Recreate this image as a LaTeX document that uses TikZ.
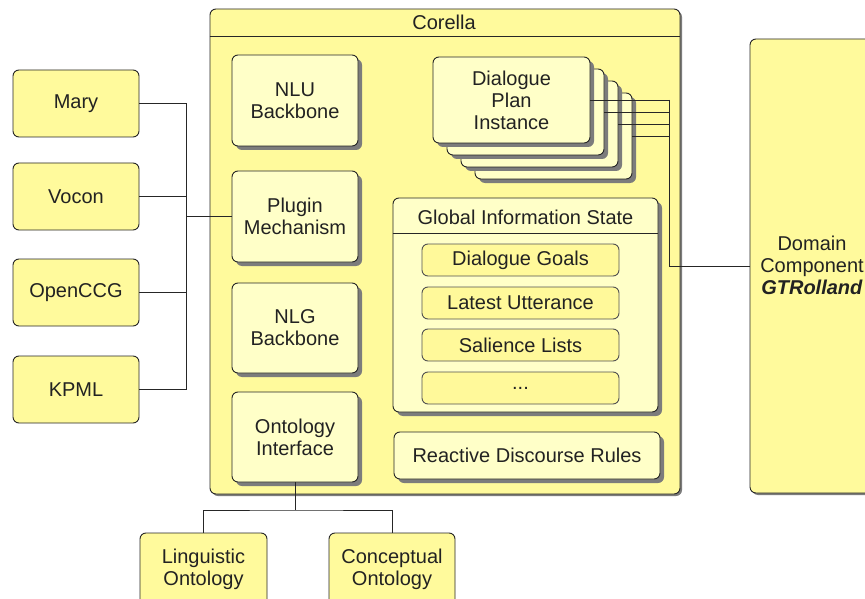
\documentclass[tikz,border=0pt]{standalone}
\usepackage{fontspec}
\setmainfont{Liberation Sans}
\usetikzlibrary{shadows}
\definecolor{outerY}{HTML}{FFFA9C}
\definecolor{innerY}{HTML}{FFFFC8}
\definecolor{itemY}{HTML}{FFF99A}
\definecolor{shadowG}{HTML}{7C7C7C}
\definecolor{inkC}{HTML}{262626}
\definecolor{textC}{HTML}{222222}
\tikzset{
  base/.style={draw=inkC, line width=0.9pt, rounded corners=6pt, align=center,
    text=textC, inner sep=0pt, font=\fontsize{20}{22}\selectfont},
  comp/.style={base, fill=innerY,
    drop shadow={shadow xshift=4pt, shadow yshift=-4pt, fill=shadowG, opacity=1}},
  extbox/.style={base, fill=outerY},
  item/.style={base, draw=inkC!80, fill=itemY, minimum width=197pt, minimum height=32pt},
  wire/.style={draw=inkC, line width=0.9pt},
  label/.style={text=textC, inner sep=0pt, font=\fontsize{20}{22}\selectfont}
}
\begin{document}
\begin{tikzpicture}[x=1pt, y=-1pt]
\fill[white] (0,0) rectangle (865,599);
\clip (0,0) rectangle (865,599);

% Corella container
\node[extbox, minimum width=470pt, minimum height=485pt,
  drop shadow={shadow xshift=2pt, shadow yshift=-2pt, fill=shadowG, opacity=1}]
  (cor) at (445,251.5) {};
\draw[wire] ([yshift=-28pt]cor.north west) -- ([yshift=-28pt]cor.north east);
\node[label] (cortitle) at (444,22) {Corella};

% left column components inside Corella
\node[comp, minimum width=126pt, minimum height=91pt] (nlu) at (295,100.5) {NLU\\Backbone};
\node[comp, minimum width=126pt, minimum height=91pt] (plugin) at (295,216.5) {Plugin\\Mechanism};
\node[comp, minimum width=126pt, minimum height=90pt] (nlg) at (295,328) {NLG\\Backbone};
\node[comp, minimum width=126pt, minimum height=90pt] (onto) at (295,437) {Ontology\\Interface};

% stacked dialogue plan instances (back to front)
\node[comp, minimum width=157pt, minimum height=86pt] (dp4) at (553.5,136) {};
\node[comp, minimum width=157pt, minimum height=86pt] (dp3) at (539.5,124) {};
\node[comp, minimum width=157pt, minimum height=86pt] (dp2) at (525.5,112) {};
\node[comp, minimum width=157pt, minimum height=86pt] (dp1) at (511.5,100) {Dialogue\\Plan\\Instance};

% global information state
\node[comp, minimum width=265pt, minimum height=214pt] (gis) at (525.5,305) {};
\draw[wire] ([yshift=-36pt]gis.north west) -- ([yshift=-36pt]gis.north east);
\node[label] (gistitle) at (525.5,217) {Global Information State};
\node[item] (goals) at (520.5,260) {Dialogue Goals};
\node[item] (utter) at (520.5,303) {Latest Utterance};
\node[item] (sal) at (520.5,345) {Salience Lists};
\node[item] (more) at (520.5,388) {...};

\node[comp, minimum width=266pt, minimum height=47pt] (rules) at (527,455.5) {Reactive Discourse Rules};

% external components
\node[extbox, minimum width=126pt, minimum height=67pt] (mary) at (76,103.5) {Mary};
\node[extbox, minimum width=126pt, minimum height=67pt] (vocon) at (76,196.5) {Vocon};
\node[extbox, minimum width=126pt, minimum height=67pt] (openccg) at (76,292.5) {OpenCCG};
\node[extbox, minimum width=126pt, minimum height=67pt] (kpml) at (76,389.5) {KPML};

\node[extbox, minimum width=127pt, minimum height=72pt] (ling) at (203.5,569) {Linguistic\\Ontology};
\node[extbox, minimum width=126pt, minimum height=72pt] (conc) at (392,569) {Conceptual\\Ontology};

\node[extbox, minimum width=134pt, minimum height=454pt,
  drop shadow={shadow xshift=2pt, shadow yshift=-2pt, fill=shadowG, opacity=1}]
  (dom) at (817,266) {};
\node[label, align=center] (domtext) at (812,265) {Domain\\Component\\\textbf{\textit{GTRolland}}};

% connectors: plugins
\coordinate (lj) at (186,216.5);
\draw[wire] (mary.east) -| (lj);
\draw[wire] (kpml.east) -| (lj);
\draw[wire] (vocon.east) -- (vocon.east -| lj);
\draw[wire] (openccg.east) -- (openccg.east -| lj);
\draw[wire] (lj) -- (plugin.west);

% connectors: ontologies
\coordinate (oj) at (295,510);
\draw[wire] (onto.south) -- (oj);
\draw[wire] (ling.north) |- (oj) -| (conc.north);

% connectors: plan instances to domain component
\coordinate (dj) at (669,266);
\draw[wire] (dp1.east) -- (dp1.east -| dj);
\draw[wire] (dp2.east) -- (dp2.east -| dj);
\draw[wire] (dp3.east) -- (dp3.east -| dj);
\draw[wire] (dp4.east) -- (dp4.east -| dj);
\draw[wire] (dp1.east -| dj) -- (dj) -- (dom.west);
\end{tikzpicture}
\end{document}
